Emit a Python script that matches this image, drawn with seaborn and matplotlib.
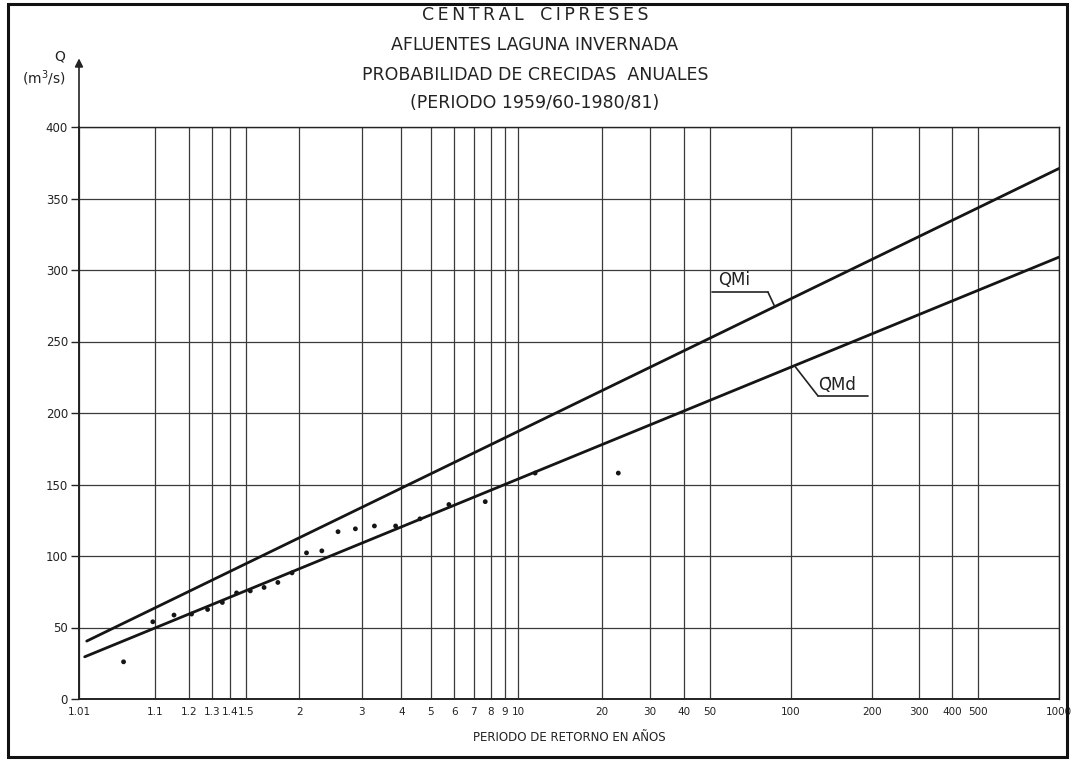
import numpy as np
import pandas as pd
import matplotlib
matplotlib.use("Agg")
import matplotlib.pyplot as plt
from matplotlib.patches import Rectangle
import seaborn as sns

# ---------------- data ----------------
# return periods (years) of observed annual floods (plotting positions)
obs_T = [1.045, 1.095, 1.15, 1.21, 1.278, 1.353, 1.438, 1.533, 1.643, 1.769, 1.917,
         2.09, 2.3, 2.556, 2.875, 3.286, 3.833, 4.6, 5.75, 7.667, 11.5, 23.0]
obs_Q = [26, 54, 58.7, 59.4, 62.6, 67.5, 74.2, 75.6, 78, 81.5, 88.2,
         102.2, 103.6, 117, 119, 121, 121, 126, 136, 138, 158, 158]

# fitted Gumbel lines (end points)
qmi_T = [1.0135, 1000]
qmi_Q = [40.5, 371]
qmd_T = [1.0125, 1000]
qmd_Q = [29.5, 309]

x_ticks = [1.01, 1.1, 1.2, 1.3, 1.4, 1.5, 2, 3, 4, 5, 6, 7, 8, 9, 10,
           20, 30, 40, 50, 100, 200, 300, 400, 500, 1000]
x_tick_labels = ["1.01", "1.1", "1.2", "1.3", "1.4", "1.5", "2", "3", "4", "5", "6",
                 "7", "8", "9", "10", "20", "30", "40", "50", "100", "200", "300",
                 "400", "500", "1000"]
y_ticks = [0, 50, 100, 150, 200, 250, 300, 350, 400]

title_lines = ["C\u2009E\u2009N\u2009T\u2009R\u2009A\u2009L   C\u2009I\u2009P\u2009R\u2009E\u2009S\u2009E\u2009S",
               "AFLUENTES LAGUNA INVERNADA",
               "PROBABILIDAD DE CRECIDAS  ANUALES", "(PERIODO 1959/60-1980/81)"]

# ---------------- Gumbel scale ----------------
def fwd(T):
    T = np.asarray(T, dtype=float)
    T = np.clip(T, 1.000001, None)
    return -np.log(-np.log(1.0 - 1.0 / T))

def inv(y):
    y = np.asarray(y, dtype=float)
    return 1.0 / (1.0 - np.exp(-np.exp(-y)))

def line_at(Ts, Qs, T):
    g0, g1 = fwd(Ts[0]), fwd(Ts[1])
    return Qs[0] + (Qs[1] - Qs[0]) * (fwd(T) - g0) / (g1 - g0)

sns.set_theme(style="white")
plt.rcParams["font.family"] = ["DejaVu Sans"]

W, H = 1071, 764
fig = plt.figure(figsize=(W / 100, H / 100), dpi=100)
fig.patch.set_facecolor("white")
ax = fig.add_axes([79 / W, 1 - 699 / H, 980 / W, 572 / H])
ax.set_xscale("function", functions=(fwd, inv))
ax.set_facecolor("white")

df_obs = pd.DataFrame({"T": obs_T, "Q": obs_Q})
df_lines = pd.DataFrame({"T": qmi_T + qmd_T, "Q": qmi_Q + qmd_Q,
                         "serie": ["QMi"] * 2 + ["QMd"] * 2})

sns.lineplot(data=df_lines, x="T", y="Q", units="serie", estimator=None,
             color="#151515", lw=2.0, ax=ax, sort=False, legend=False)
sns.scatterplot(data=df_obs, x="T", y="Q", color="#151515", s=12,
                edgecolor="none", ax=ax, legend=False, zorder=5)

ax.set_xlim(1.01, 1000)
ax.set_ylim(0, 400)
ax.set_xticks(x_ticks)
ax.set_xticklabels(x_tick_labels)
ax.minorticks_off()
ax.set_yticks(y_ticks)
ax.grid(True, color="#3a3a3a", lw=0.9)
ax.tick_params(axis="x", length=0, pad=6, labelsize=7.5, colors="#222")
ax.tick_params(axis="y", length=6, width=1, direction="out", left=True,
               pad=2, labelsize=8.5, colors="#222", labelleft=True)
for s in ax.spines.values():
    s.set_visible(True)
    s.set_color("#222")
    s.set_linewidth(1.0)
ax.spines["left"].set_linewidth(1.4)
ax.spines["bottom"].set_linewidth(1.4)
ax.set_xlabel("PERIODO DE RETORNO EN AÑOS", fontsize=8.5, color="#222", labelpad=10)
ax.set_ylabel("")

# y-axis arrow above the plot
ax.annotate("", xy=(0, 1.12), xycoords="axes fraction", xytext=(0, 1.0),
            textcoords="axes fraction",
            arrowprops=dict(arrowstyle="-|>", color="#222", lw=1.2,
                            mutation_scale=12, shrinkA=0, shrinkB=0))
fig.text(60 / W, 1 - 57 / H, "Q", ha="center", va="center", fontsize=10, color="#222")
fig.text(44 / W, 1 - 78 / H, "(m$^3$/s)", ha="center", va="center", fontsize=10, color="#222")

# titles
for i, (t, yy) in enumerate(zip(title_lines, [15, 45, 75, 103])):
    fig.text(535 / W, 1 - yy / H, t, ha="center", va="center", fontsize=12.5,
             color="#222")

# curve labels with leaders
kw = dict(color="#222", lw=1.2)
ax.text(0.652, 0.717, "QMi", transform=ax.transAxes, fontsize=12, color="#222",
        ha="left", va="bottom")
ax.plot([0.646, 0.703], [0.7115, 0.7115], transform=ax.transAxes, **kw)
T_i = 87.0
ax.annotate("", xy=(T_i, line_at(qmi_T, qmi_Q, T_i)), xycoords="data",
            xytext=(0.703, 0.7115), textcoords="axes fraction",
            arrowprops=dict(arrowstyle="-", shrinkA=0, shrinkB=0, **kw))

ax.text(0.754, 0.533, "Q\u0304Md", transform=ax.transAxes, fontsize=12, color="#222",
        ha="left", va="bottom")
ax.plot([0.754, 0.805], [0.530, 0.530], transform=ax.transAxes, **kw)
T_d = 103.0
ax.annotate("", xy=(T_d, line_at(qmd_T, qmd_Q, T_d)), xycoords="data",
            xytext=(0.754, 0.530), textcoords="axes fraction",
            arrowprops=dict(arrowstyle="-", shrinkA=0, shrinkB=0, **kw))

# outer frame
fig.patches.append(Rectangle((8 / W, 1 - 757 / H), (1067 - 8) / W, (757 - 4) / H,
                             transform=fig.transFigure, fill=False,
                             edgecolor="#111", lw=2.2))

fig.savefig("out.png", dpi=100)
